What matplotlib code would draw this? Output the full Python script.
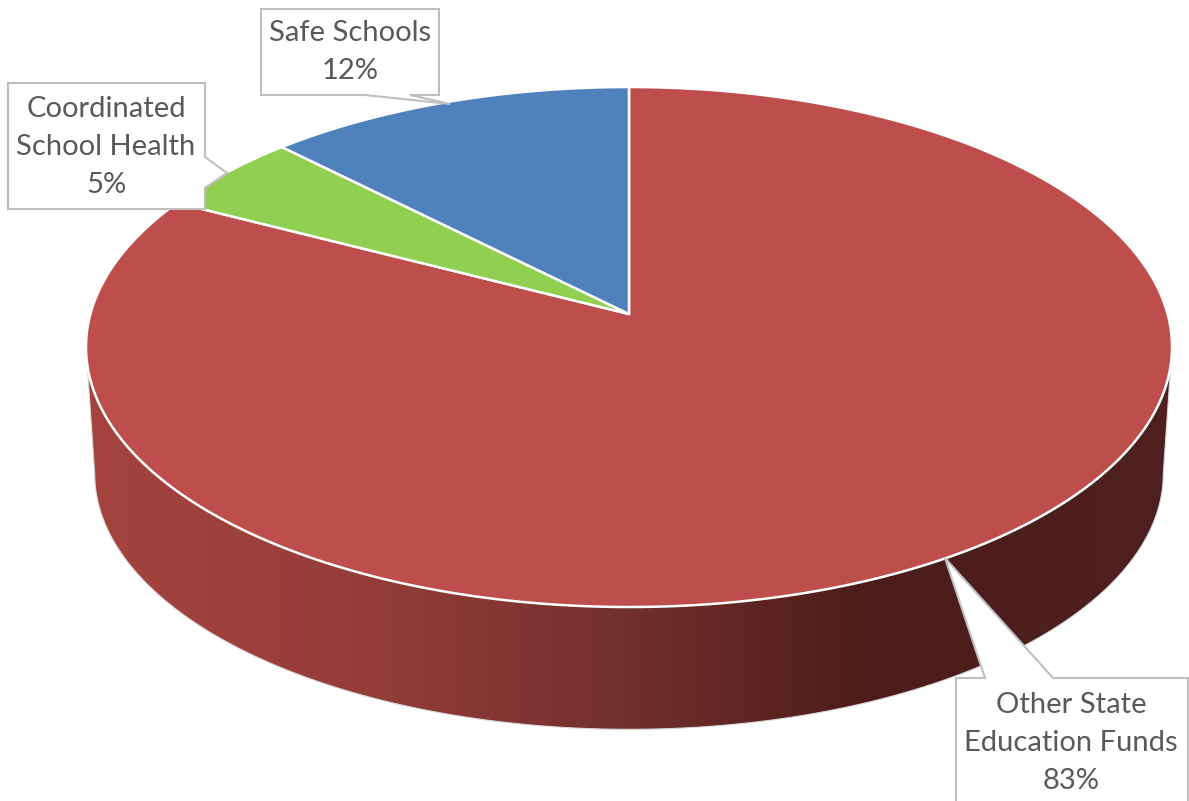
import numpy as np
from matplotlib import pyplot as plt
from matplotlib.colors import LinearSegmentedColormap
from matplotlib.patches import Polygon

# values, clockwise from twelve o'clock
categories = ["Other State\nEducation Funds", "Coordinated\nSchool Health", "Safe Schools"]
values = [82.6, 5.0, 12.4]
percent_labels = ["83%", "5%", "12%"]
slice_colors = ["#BE4E4C", "#90CF4F", "#4F81BD"]

# pie geometry in picture pixels
APEX_X, APEX_Y = 629, 314
SCALE_X, SCALE_Y, TILT = 538.6, 255.8, 0.127
WALL_SHIFT, WALL_SCALE = 127, 0.984

LABEL_COLOR = "#595959"
BOX_EDGE = "#BFBFBF"

# label boxes: centre of text, box corners, tail points
label_pos = [(1071, 743), (106, 147), (350, 52)]
label_boxes = [
    [(956, 678), (985, 678), (945, 558), (1053, 678), (1188, 678), (1188, 815), (956, 815)],
    [(8, 83), (205, 83), (205, 157), (227, 173), (205, 188), (205, 209), (8, 209)],
    [(261, 9), (439, 9), (439, 95), (410, 95), (450, 104), (365, 95), (261, 95)],
]


def project(theta, scale=1.0, shift=0.0):
    # tilted disc: a circle in perspective, the apex sits above the ellipse centre
    w = 1 + TILT * np.sin(theta)
    x = APEX_X + scale * SCALE_X * np.cos(theta) / w
    y = APEX_Y + shift - scale * SCALE_Y * np.sin(theta) / w
    return x, y


plt.rcParams["font.family"] = ["Lato", "DejaVu Sans"]
fig = plt.figure(figsize=(11.89, 8.01), dpi=100)
ax = fig.add_axes([0, 0, 1, 1])
ax.set_xlim(0, 1189)
ax.set_ylim(801, 0)
ax.axis("off")

# side wall, from widest point left round the front to widest point right
widest = np.arcsin(-TILT)
wall_t = np.linspace(np.pi - widest, 2 * np.pi + widest, 300)
top_x, top_y = project(wall_t)
low_x, low_y = project(wall_t, WALL_SCALE, WALL_SHIFT)
wall_xy = np.vstack([np.column_stack([top_x, top_y]), np.column_stack([low_x, low_y])[::-1]])
wall_cmap = LinearSegmentedColormap.from_list(
    "wall",
    [(0.0, "#A5443F"), (0.25, "#963D39"), (0.5, "#722F2C"), (0.72, "#4B1C19"), (1.0, "#4E2020")],
)
wall_img = ax.imshow(
    np.linspace(0, 1, 512).reshape(1, -1),
    cmap=wall_cmap,
    extent=(86, 1172, 801, 300),
    aspect="auto",
    zorder=1,
)
wall_patch = Polygon(wall_xy, closed=True, facecolor="none", edgecolor="#D9D9D9", lw=0.8, zorder=2)
ax.add_patch(wall_patch)
wall_img.set_clip_path(wall_patch)
ax.set_xlim(0, 1189)
ax.set_ylim(801, 0)

# top of the pie
start = np.pi / 2
for value, color in zip(values, slice_colors):
    stop = start - 2 * np.pi * value / sum(values)
    t = np.linspace(start, stop, 400)
    x, y = project(t)
    ax.fill(
        np.r_[APEX_X, x],
        np.r_[APEX_Y, y],
        facecolor=color,
        edgecolor="white",
        lw=1.8,
        joinstyle="round",
        zorder=3,
    )
    start = stop

# callout labels
for name, pct, pos, box in zip(categories, percent_labels, label_pos, label_boxes):
    ax.add_patch(Polygon(box, closed=True, facecolor="white", edgecolor=BOX_EDGE, lw=1.5, zorder=4))
    ax.text(
        pos[0],
        pos[1],
        name + "\n" + pct,
        ha="center",
        va="center",
        fontsize=21,
        color=LABEL_COLOR,
        linespacing=1.55,
        zorder=5,
    )

fig.savefig("out.png", dpi=100)
